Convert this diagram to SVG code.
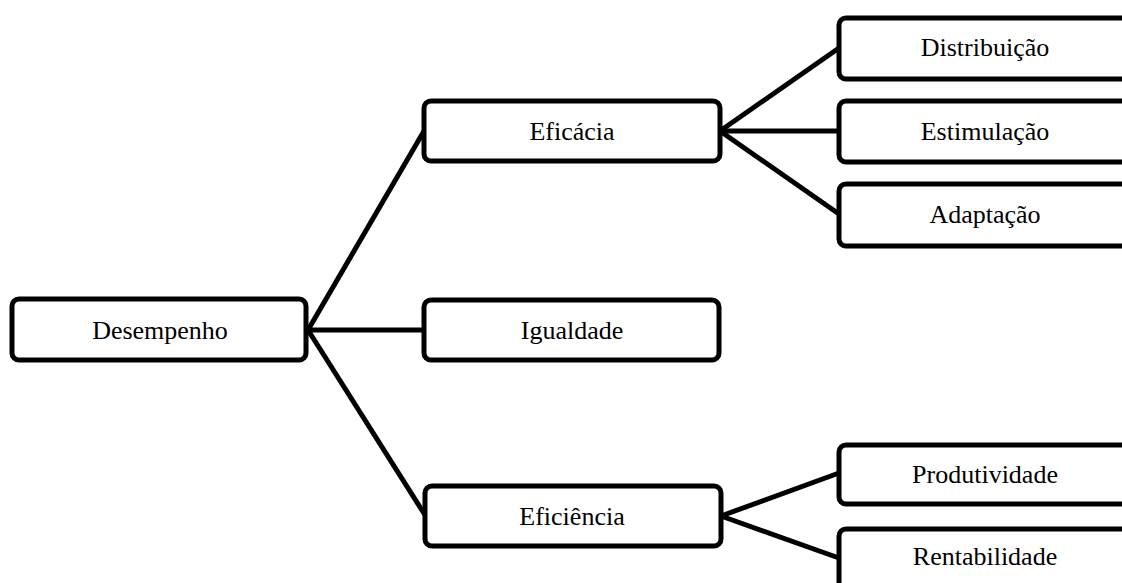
<svg xmlns="http://www.w3.org/2000/svg" width="1122" height="583" viewBox="0 0 1122 583">
<style>
.box{fill:#fff;stroke:#000;stroke-width:5}
.lbl{font-family:"Liberation Serif","Times New Roman",serif;font-size:26px;fill:#000;text-anchor:middle}
.con{stroke:#000;stroke-width:5;fill:none}
</style>
<rect width="1122" height="583" fill="#fff"/>
<g id="connectors">
<line class="con" x1="308" y1="330" x2="424" y2="131"/>
<line class="con" x1="308" y1="330" x2="424" y2="330"/>
<line class="con" x1="308" y1="330" x2="425" y2="515"/>
<line class="con" x1="720" y1="131" x2="839" y2="48"/>
<line class="con" x1="720" y1="131" x2="839" y2="131"/>
<line class="con" x1="720" y1="131" x2="839" y2="214"/>
<line class="con" x1="721" y1="516" x2="839" y2="473"/>
<line class="con" x1="721" y1="516" x2="839" y2="558"/>
</g>
<g id="desempenho"><rect class="box" x="12" y="299" width="294" height="61" rx="7"/><text class="lbl" x="160" y="339">Desempenho</text></g>
<g id="eficacia"><rect class="box" x="424" y="101" width="296" height="60" rx="7"/><text class="lbl" x="572" y="140">Eficácia</text></g>
<g id="igualdade"><rect class="box" x="424" y="300" width="295" height="60" rx="7"/><text class="lbl" x="572" y="339">Igualdade</text></g>
<g id="eficiencia"><rect class="box" x="425" y="486" width="296" height="60" rx="7"/><text class="lbl" x="572" y="525">Eficiência</text></g>
<g id="distribuicao"><rect class="box" x="839" y="18" width="300" height="61" rx="7"/><text class="lbl" x="985" y="56">Distribuição</text></g>
<g id="estimulacao"><rect class="box" x="839" y="101" width="300" height="61" rx="7"/><text class="lbl" x="985" y="140">Estimulação</text></g>
<g id="adaptacao"><rect class="box" x="839" y="184" width="300" height="62" rx="7"/><text class="lbl" x="985" y="223">Adaptação</text></g>
<g id="produtividade"><rect class="box" x="839" y="445" width="300" height="59" rx="7"/><text class="lbl" x="985" y="483">Produtividade</text></g>
<g id="rentabilidade"><rect class="box" x="839" y="529" width="300" height="80" rx="7"/><text class="lbl" x="985" y="565">Rentabilidade</text></g>
</svg>
